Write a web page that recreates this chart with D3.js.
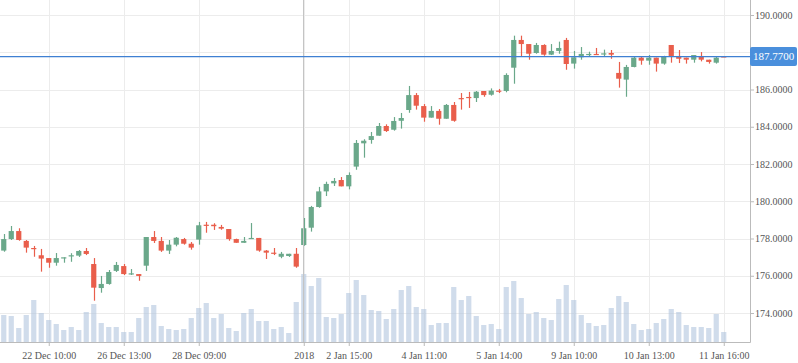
<!DOCTYPE html>
<html>
<head>
<meta charset="utf-8">
<script src="https://cdn.jsdelivr.net/npm/d3@7"></script>
<style>
  body { margin: 0; background: #fff; }
  svg text { font-family: "Liberation Serif", "DejaVu Serif", serif; }
</style>
</head>
<body>
<div id="chart"></div>
<script>
// candles, one per hour slot (index 0..96)
const opens  = [177.35,177.97,178.40,177.87,177.49,177.10,176.95,176.70,176.95,177.04,177.08,177.33,176.63,175.34,175.56,176.26,176.52,176.09,176.09,176.54,
                178.08,177.87,177.35,177.67,177.97,177.72,177.94,178.74,178.74,178.62,178.51,177.97,177.77,177.99,178.03,177.35,177.24,177.02,177.06,177.18,
                177.65,178.58,179.69,180.53,180.96,181.14,180.80,181.86,183.11,183.29,183.52,184.04,183.84,184.32,184.90,185.70,185.11,184.49,184.85,184.43,
                185.17,185.54,185.60,185.54,185.92,185.72,185.94,185.92,187.17,188.66,188.44,187.96,188.39,187.87,188.07,188.66,187.39,187.73,187.87,187.91,
                187.91,187.96,186.89,186.53,187.21,187.71,187.55,187.71,187.39,188.39,187.80,187.71,187.60,187.80,187.60,187.44,187.78];
const highs  = [178.24,178.67,178.55,177.92,177.60,177.44,176.95,177.22,176.99,177.21,177.38,177.49,176.95,175.99,176.31,176.74,176.63,176.36,176.09,178.08,
                178.40,178.08,177.92,178.08,178.03,177.81,178.89,178.89,178.82,178.73,178.51,177.99,178.08,178.83,178.03,177.38,177.49,177.28,177.18,177.49,
                179.10,179.75,180.77,181.05,181.25,181.30,181.55,183.29,183.33,183.72,184.20,184.13,184.52,184.74,186.19,185.81,185.22,185.11,184.95,185.22,
                185.33,185.81,185.87,185.92,185.92,186.06,186.03,186.87,188.89,188.89,188.44,188.50,188.43,188.44,188.57,188.77,188.07,188.28,188.03,188.23,
                188.14,188.12,187.48,187.32,187.75,187.75,187.85,187.71,187.81,188.39,188.12,187.71,187.85,188.01,187.60,187.75,187.78];
const lows   = [177.29,177.92,177.88,177.24,177.02,176.22,176.43,176.54,176.70,176.75,177.01,177.11,174.66,175.09,175.52,176.20,176.04,176.04,175.73,176.26,
                177.76,177.28,177.17,177.58,177.67,177.40,177.67,178.31,178.46,178.47,177.88,177.77,177.77,177.99,177.29,176.90,177.11,176.94,177.01,176.43,
                177.61,178.37,179.65,180.28,180.82,180.80,180.64,181.69,182.34,183.09,183.52,183.72,183.79,183.90,184.75,184.92,184.27,184.49,184.11,184.43,
                184.27,184.92,185.01,185.33,185.61,185.67,185.81,185.85,186.31,187.80,187.60,187.92,187.81,187.85,187.92,187.06,187.12,187.60,187.75,187.87,
                187.78,187.65,186.10,185.61,187.19,187.33,187.33,186.96,187.33,187.44,187.42,187.39,187.44,187.51,187.39,187.39,187.77];
const closes = [177.97,178.40,177.92,177.51,177.45,176.92,176.70,176.95,176.99,177.10,177.33,177.17,175.36,175.56,176.20,176.58,176.09,176.13,175.99,178.08,
                177.87,177.35,177.67,178.04,177.72,177.51,178.71,178.71,178.66,178.53,177.97,177.77,177.87,178.03,177.35,177.24,177.21,177.18,177.18,176.49,
                178.55,179.69,180.53,180.93,181.09,180.80,181.41,183.13,183.25,183.50,184.04,183.77,184.31,184.47,185.70,185.13,184.49,184.85,184.43,185.17,
                184.32,185.52,185.57,185.88,185.70,185.94,185.90,186.78,188.66,188.44,187.92,188.39,187.87,188.07,188.23,187.37,187.73,187.91,187.91,187.88,
                187.94,187.87,186.58,187.21,187.71,187.55,187.71,187.39,187.78,187.80,187.65,187.60,187.85,187.60,187.48,187.71,187.77];
const volumes = [2700,2600,1400,2700,4200,2900,2200,1800,1200,1500,1200,3000,3800,1900,1500,1500,1000,1000,2400,3500,
                 3700,1600,1300,1200,1300,2400,3400,3900,2400,2800,1400,1100,2900,3300,2100,2100,1300,1500,900,4000,
                 6800,5600,6400,2500,2400,2800,4900,6200,4700,3200,3100,2300,3300,5200,5600,3500,3300,1700,1900,1900,
                 5500,4200,4600,2600,1700,1800,1300,5500,6100,4400,2800,3000,2400,2200,4300,5700,4200,2700,1900,1600,
                 1700,3400,4600,4000,1800,1200,1300,1900,2300,3300,3000,1700,1500,1500,1400,2800,1000];

const tickIdx = [6, 16, 26, 40, 46, 56, 66, 76, 86, 96];
const tickLabels = ['22 Dec 10:00', '26 Dec 13:00', '28 Dec 09:00', '2018', '2 Jan 15:00',
                    '4 Jan 11:00', '5 Jan 14:00', '9 Jan 10:00', '10 Jan 13:00', '11 Jan 16:00'];
const priceTicks = [174, 176, 178, 180, 182, 184, 186, 188, 190];
const lastPrice = 187.77;
const crossIdx = 40;

const W = 798, H = 363;
const plotW = 750, plotH = 342;
const green = '#6aa88a', red = '#e95e4b';

const svg = d3.select('#chart').append('svg')
  .attr('width', W).attr('height', H);

const x = d3.scaleLinear().domain([-0.5, 99.5]).range([0, plotW]);
const y = d3.scaleLinear().domain([174, 190]).range([313, 15]);
const yVol = d3.scaleLinear().domain([0, d3.max(volumes)]).range([plotH, 274]);
const bw = 5.2;

// grid
svg.append('g').selectAll('line.h')
  .data(priceTicks).enter().append('line')
  .attr('x1', 0).attr('x2', plotW)
  .attr('y1', d => Math.round(y(d)) + 0.5).attr('y2', d => Math.round(y(d)) + 0.5)
  .attr('stroke', '#ececec');
svg.append('g').selectAll('line.v')
  .data(tickIdx).enter().append('line')
  .attr('x1', d => Math.round(x(d)) + 0.5).attr('x2', d => Math.round(x(d)) + 0.5)
  .attr('y1', 0).attr('y2', plotH)
  .attr('stroke', '#ececec');

// volume bars
svg.append('g').selectAll('rect')
  .data(volumes).enter().append('rect')
  .attr('x', (d, i) => x(i) - bw / 2)
  .attr('y', d => yVol(d))
  .attr('width', bw)
  .attr('height', d => plotH - yVol(d))
  .attr('fill', '#b0c4de')
  .attr('fill-opacity', 0.6);

// candles
const candles = svg.append('g').selectAll('g')
  .data(d3.range(opens.length)).enter().append('g');
candles.append('line')
  .attr('x1', i => Math.round(x(i)) + 0.5).attr('x2', i => Math.round(x(i)) + 0.5)
  .attr('y1', i => y(highs[i])).attr('y2', i => y(lows[i]))
  .attr('stroke', i => closes[i] >= opens[i] ? green : red)
  .attr('stroke-width', 1.2);
candles.append('rect')
  .attr('x', i => x(i) - bw / 2)
  .attr('y', i => y(Math.max(opens[i], closes[i])))
  .attr('width', bw)
  .attr('height', i => Math.max(1.2, Math.abs(y(opens[i]) - y(closes[i]))))
  .attr('fill', i => closes[i] >= opens[i] ? green : red);

// axes
const xAxis = svg.append('g')
  .attr('transform', `translate(0,${plotH})`)
  .call(d3.axisBottom(x).tickValues(tickIdx).tickFormat((d, i) => tickLabels[i]).tickSize(4).tickSizeOuter(0));
const yAxis = svg.append('g')
  .attr('transform', `translate(${plotW},0)`)
  .call(d3.axisRight(y).tickValues(priceTicks).tickFormat(d3.format('.4f')).tickSize(4).tickSizeOuter(0));
[xAxis, yAxis].forEach(a => {
  a.select('.domain').attr('stroke', '#bbb');
  a.selectAll('.tick line').attr('stroke', '#bbb');
  a.selectAll('.tick text').attr('fill', '#555').attr('font-size', 10)
    .style('font-family', '"Liberation Serif", serif');
});
xAxis.selectAll('.tick text').attr('dy', '0.95em');
yAxis.selectAll('.tick text').attr('x', 5);
// domain lines extend to the top / right edge
yAxis.select('.domain').attr('d', `M0.5,0V${plotH + 0.5}`);
xAxis.select('.domain').attr('d', `M0,0.5H${plotW + 0.5}`);

// crosshair
svg.append('line')
  .attr('x1', Math.round(x(crossIdx)) - 0.5).attr('x2', Math.round(x(crossIdx)) - 0.5)
  .attr('y1', 0).attr('y2', plotH)
  .attr('stroke', '#c4c4c4');
const ly = y(lastPrice);
// the price tag covers the tick labels it sits on
yAxis.selectAll('.tick').filter(d => Math.abs(y(d) - ly) < 12).select('text').remove();
svg.append('line')
  .attr('x1', 0).attr('x2', plotW)
  .attr('y1', ly).attr('y2', ly)
  .attr('stroke', '#3f80d2').attr('stroke-width', 1.2);
svg.append('rect')
  .attr('x', plotW).attr('y', ly - 9.5)
  .attr('width', 47).attr('height', 19)
  .attr('rx', 2)
  .attr('fill', '#4a8fdc');
svg.append('text')
  .attr('x', plotW + 23.5).attr('y', ly)
  .attr('dy', '0.35em')
  .attr('text-anchor', 'middle')
  .attr('fill', '#fff')
  .attr('font-size', 11)
  .text(d3.format('.4f')(lastPrice));
</script>
</body>
</html>
